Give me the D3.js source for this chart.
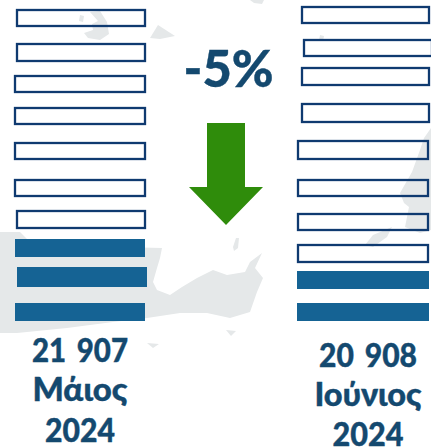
<!DOCTYPE html>
<html><head><meta charset="utf-8">
<script src="https://cdn.jsdelivr.net/npm/d3@7/dist/d3.min.js"></script>
<style>html,body{margin:0;padding:0;background:#fff}svg{display:block}text{font-family:Lato,"Open Sans",sans-serif;font-weight:900;fill:#14496f;stroke:#14496f;stroke-width:.4;text-anchor:middle;word-spacing:4px}</style>
</head><body><svg id="c" width="431" height="448"></svg>
<script>
// ---- data ----
const periods = ["Μάιος", "Ιούνιος"];
const years = ["2024", "2024"];
const totals = ["21 907", "20 908"];
const changeLabel = "-5%";
const unitsPerColumn = 10;
const filledUnits = [3, 2];

// ---- layout (hand-set pictogram placement, not data) ----
const rowTops = [
  [9, 43, 75, 107, 142, 179, 210, 239, 267, 303],
  [6, 39, 67, 103, 140, 179, 213, 244, 271, 303]
];
const rowHeights = [
  [18, 19, 18, 18, 18, 18, 19, 18, 20, 18],
  [18, 18, 19, 20, 20, 18, 18, 19, 18, 18]
];
const rowLefts = [
  [16, 16, 14, 14, 14, 14, 16, 15, 17, 15],
  [301, 303, 301, 301, 297, 297, 297, 297, 297, 297]
];
const rowRights = [
  [146, 146, 146, 146, 146, 146, 146, 145, 147, 145],
  [430, 433, 430, 430, 429, 429, 429, 429, 429, 429]
];
const labelLayout = [
  {x: 80, base: [362, 401, 442], len: [96, 95, 70]},
  {x: 368, base: [367, 406, 446], len: [98, 107, 71]}
];
const mapShapes = [
  "M0,232L20,232L28,240L80,246L162,248L160,258L157,268L153,282L157,290L170,295L182,287L197,278L213,270L227,275L245,272L250,262L262,253L255,268L263,278L257,292L250,312L230,318L207,313L180,313L147,318L113,322L67,328L17,333L0,333Z",
  "M236,238L239,238L238,248L234,251L233,247Z",
  "M226,330L236,331L231,336Z",
  "M147,343L159,344L153,348Z",
  "M150,38L158,25L175,36L160,39Z",
  "M90,12L100,11L107,22L109,34L100,40L88,38L84,33L93,30L92,24L98,21Z",
  "M80,15L84,16L83,22L79,21Z",
  "M431,128L424,138L420,150L412,172L400,193L404,203L409,207L405,227L420,233L431,230Z",
  "M392,227L373,235L365,245L373,247L387,237Z",
  "M320,35L324,36L323,41L319,40Z",
  "M250,0L264,0L262,4L254,3Z"
];

// ---- drawing ----
const svg = d3.select("#c");
const defs = svg.append("defs");
defs.append("filter").attr("id", "soft").append("feGaussianBlur").attr("stdDeviation", 0.7);

svg.append("g").attr("filter", "url(#soft)").selectAll("path").data(mapShapes).join("path")
  .attr("d", d => d).attr("fill", "#e5e8e9");

const unitIndex = d3.range(unitsPerColumn);
periods.forEach((p, c) => {
  const y = d3.scaleOrdinal().domain(unitIndex).range(rowTops[c]);
  const h = d3.scaleOrdinal().domain(unitIndex).range(rowHeights[c]);
  const x0 = d3.scaleOrdinal().domain(unitIndex).range(rowLefts[c]);
  const x1 = d3.scaleOrdinal().domain(unitIndex).range(rowRights[c]);
  const isFilled = i => i >= unitsPerColumn - filledUnits[c];
  svg.append("g").selectAll("rect").data(unitIndex).join("rect")
    .attr("x", i => isFilled(i) ? x0(i) : x0(i) + 1)
    .attr("y", i => isFilled(i) ? y(i) : y(i) + 1)
    .attr("width", i => isFilled(i) ? x1(i) - x0(i) : x1(i) - x0(i) - 2)
    .attr("height", i => isFilled(i) ? h(i) : h(i) - 2)
    .attr("fill", i => isFilled(i) ? "#156394" : "none")
    .attr("stroke", i => isFilled(i) ? "none" : "#0f3a70")
    .attr("stroke-width", 2.3);

  const lines = [totals[c], p, years[c]];
  const L = labelLayout[c];
  svg.append("g").selectAll("text").data(lines).join("text")
    .attr("x", L.x).attr("y", (d, i) => L.base[i])
    .attr("font-size", 32)
    .attr("textLength", (d, i) => L.len[i])
    .attr("lengthAdjust", "spacingAndGlyphs")
    .text(d => d);
});

svg.append("text").attr("x", 228.5).attr("y", 87).attr("font-size", 52)
  .attr("textLength", 90).attr("lengthAdjust", "spacingAndGlyphs").text(changeLabel);

const arrow = d3.line();
svg.append("path")
  .attr("d", arrow([[207,123],[245,123],[245,187],[263,187],[226,225],[189,187],[207,187]]) + "Z")
  .attr("fill", "#2f8c0b");
</script></body></html>
